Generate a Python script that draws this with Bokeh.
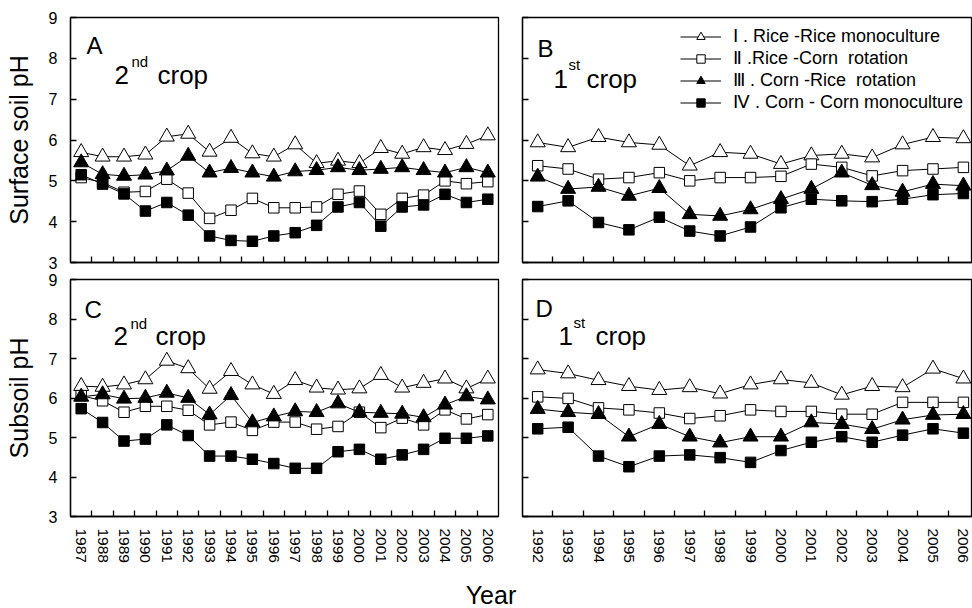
from bokeh.plotting import figure
from bokeh.models import (Range1d, FixedTicker, Label, Legend, LegendItem, Div)
from bokeh.layouts import column, row
from bokeh.embed import file_html
from bokeh.resources import INLINE

# ---------------- data ----------------
years_2nd = list(range(1987, 2007))
years_1st = list(range(1992, 2007))

# Panel A: surface soil, 2nd crop
A_I   = [5.70, 5.59, 5.59, 5.64, 6.08, 6.15, 5.71, 6.05, 5.67, 5.59, 5.89, 5.43, 5.49, 5.43, 5.80, 5.66, 5.82, 5.75, 5.90, 6.11]
A_II  = [5.08, 4.96, 4.72, 4.74, 5.04, 4.70, 4.08, 4.28, 4.57, 4.34, 4.34, 4.36, 4.67, 4.75, 4.18, 4.57, 4.65, 5.00, 4.93, 4.98]
A_III = [5.45, 5.16, 5.12, 5.15, 5.25, 5.61, 5.20, 5.31, 5.20, 5.10, 5.23, 5.26, 5.33, 5.26, 5.29, 5.33, 5.26, 5.20, 5.33, 5.20]
A_IV  = [5.15, 4.92, 4.68, 4.26, 4.47, 4.16, 3.65, 3.54, 3.52, 3.65, 3.73, 3.91, 4.36, 4.47, 3.89, 4.36, 4.41, 4.67, 4.47, 4.55]

# Panel B: surface soil, 1st crop
B_I   = [5.94, 5.82, 6.07, 5.94, 5.88, 5.37, 5.70, 5.66, 5.41, 5.62, 5.66, 5.57, 5.89, 6.07, 6.04]
B_II  = [5.37, 5.29, 5.04, 5.08, 5.20, 5.00, 5.08, 5.08, 5.11, 5.41, 5.33, 5.12, 5.25, 5.29, 5.33]
B_III = [5.10, 4.80, 4.85, 4.63, 4.82, 4.18, 4.14, 4.30, 4.55, 4.80, 5.20, 4.89, 4.73, 4.92, 4.88]
B_IV  = [4.37, 4.51, 3.98, 3.80, 4.11, 3.77, 3.65, 3.87, 4.34, 4.55, 4.51, 4.49, 4.55, 4.66, 4.69]

# Panel C: subsoil, 2nd crop
C_I   = [6.30, 6.28, 6.34, 6.47, 6.94, 6.75, 6.23, 6.68, 6.34, 6.10, 6.45, 6.26, 6.21, 6.24, 6.58, 6.26, 6.38, 6.49, 6.24, 6.49]
C_II  = [6.06, 5.93, 5.64, 5.79, 5.79, 5.69, 5.32, 5.39, 5.18, 5.39, 5.39, 5.21, 5.28, 5.64, 5.25, 5.49, 5.32, 5.70, 5.47, 5.58]
C_III = [6.03, 6.09, 5.98, 6.00, 6.13, 6.00, 5.58, 6.07, 5.38, 5.53, 5.66, 5.64, 5.86, 5.64, 5.62, 5.60, 5.51, 5.83, 6.04, 5.96]
C_IV  = [5.73, 5.38, 4.91, 4.96, 5.32, 5.05, 4.53, 4.53, 4.45, 4.34, 4.22, 4.22, 4.64, 4.70, 4.45, 4.56, 4.70, 4.98, 4.98, 5.04]

# Panel D: subsoil, 1st crop
D_I   = [6.72, 6.62, 6.45, 6.30, 6.20, 6.27, 6.11, 6.34, 6.47, 6.38, 6.08, 6.30, 6.27, 6.74, 6.49]
D_II  = [6.03, 5.99, 5.75, 5.70, 5.62, 5.48, 5.55, 5.70, 5.66, 5.66, 5.59, 5.59, 5.89, 5.89, 5.89]
D_III = [5.72, 5.64, 5.59, 5.02, 5.34, 5.02, 4.87, 5.02, 5.02, 5.38, 5.34, 5.21, 5.45, 5.57, 5.59]
D_IV  = [5.22, 5.26, 4.53, 4.26, 4.53, 4.56, 4.49, 4.37, 4.67, 4.88, 5.02, 4.88, 5.06, 5.22, 5.11]

series_labels = ["\u2160 . Rice -Rice monoculture",
                 "\u2161 .Rice -Corn  rotation",
                 "\u2162 . Corn -Rice  rotation",
                 "\u2163 . Corn - Corn monoculture"]
y_ticks = [3, 4, 5, 6, 7, 8, 9]

# ---------------- styling ----------------
FONT = "Liberation Sans"
NARROW = "'Liberation Sans Narrow', 'Liberation Sans', sans-serif"
styles = [dict(marker="triangle", size=15, fill_color="white"),
          dict(marker="square", size=10.5, fill_color="white"),
          dict(marker="triangle", size=15, fill_color="black"),
          dict(marker="square", size=10.5, fill_color="black")]

FRAME_H_TOP, FRAME_H_BOT = 245, 237
FRAME_W_L, FRAME_W_R = 428, 450


def make_panel(years, series, xr, frame_w, frame_h, left_labels, bottom_labels,
               borders, ylabel=None):
    p = figure(width=frame_w + borders[0] + borders[1],
               height=frame_h + borders[2] + borders[3],
               x_range=Range1d(*xr), y_range=Range1d(3, 9),
               output_backend="svg", toolbar_location=None,
               min_border_left=borders[0], min_border_right=borders[1],
               min_border_top=borders[2], min_border_bottom=borders[3])
    p.frame_width = frame_w
    p.frame_height = frame_h
    p.xgrid.visible = False
    p.ygrid.visible = False
    p.outline_line_color = "black"
    p.outline_line_width = 1.3
    p.background_fill_color = "white"
    p.border_fill_color = "white"

    rends = []
    for vals, st in zip(series, styles):
        l = p.line(years, vals, line_color="black", line_width=1)
        s = p.scatter(years, vals, marker=st["marker"], size=st["size"],
                      fill_color=st["fill_color"], line_color="black", line_width=1)
        rends.append((l, s))

    # x axis: year labels at the points, tick marks between the years
    xa = p.xaxis[0]
    halves = [y + 0.5 for y in years[:-1]]
    xa.ticker = FixedTicker(ticks=years if bottom_labels else [], minor_ticks=halves)
    xa.major_tick_in = 0
    xa.major_tick_out = 0
    xa.minor_tick_in = 6
    xa.minor_tick_out = 0
    xa.minor_tick_line_color = "black"
    xa.minor_tick_line_width = 1.3
    xa.axis_line_color = "black"
    xa.axis_line_width = 1.3
    if bottom_labels:
        xa.major_label_orientation = "vertical"
        xa.major_label_text_font = FONT
        xa.major_label_text_font_size = "15.5px"
        xa.major_label_text_color = "black"
        xa.major_label_standoff = 12
    else:
        xa.major_label_standoff = 0

    # y axis
    ya = p.yaxis[0]
    ya.axis_line_color = "black"
    ya.axis_line_width = 1.3
    if left_labels:
        ya.ticker = FixedTicker(ticks=y_ticks)
        ya.minor_tick_line_color = None
        ya.major_tick_in = 6
        ya.major_tick_out = 0
        ya.major_tick_line_color = "black"
        ya.major_tick_line_width = 1.3
        ya.major_label_text_font = NARROW
        ya.major_label_text_font_size = "16px"
        ya.major_label_text_color = "black"
        ya.major_label_standoff = 13
        ya.axis_label = ylabel
        ya.axis_label_text_font = FONT
        ya.axis_label_text_font_style = "normal"
        ya.axis_label_text_font_size = "25px"
        ya.axis_label_text_color = "black"
        ya.axis_label_standoff = 13
    else:
        ya.ticker = FixedTicker(ticks=[], minor_ticks=y_ticks)
        ya.minor_tick_in = 6
        ya.minor_tick_out = 0
        ya.minor_tick_line_color = "black"
        ya.minor_tick_line_width = 1.3
        ya.major_label_standoff = 0
    return p, rends


def add_texts(p, geom, items):
    left, top, w, h, x0, x1 = geom
    for txt, X, Y, fs in items:
        xd = x0 + (X - left) / w * (x1 - x0)
        yd = 9 - (Y - top) / h * 6
        p.add_layout(Label(x=xd, y=yd, text=txt, text_font=FONT,
                           text_font_size=f"{fs}px", text_color="black",
                           text_align="left", text_baseline="alphabetic"))


xr_2nd = (1986.5, 2006.5)
xr_1st = (1991.5, 2006.3)

pA, _ = make_panel(years_2nd, [A_I, A_II, A_III, A_IV], xr_2nd, FRAME_W_L, FRAME_H_TOP,
                   True, False, (70, 12, 17, 8), "Surface soil pH")
pB, rB = make_panel(years_1st, [B_I, B_II, B_III, B_IV], xr_1st, FRAME_W_R, FRAME_H_TOP,
                    False, False, (12, 0, 17, 8))
pC, _ = make_panel(years_2nd, [C_I, C_II, C_III, C_IV], xr_2nd, FRAME_W_L, FRAME_H_BOT,
                   True, True, (70, 12, 9, 56), "Subsoil pH")
pD, _ = make_panel(years_1st, [D_I, D_II, D_III, D_IV], xr_1st, FRAME_W_R, FRAME_H_BOT,
                   False, True, (12, 0, 9, 56))

gA = (70, 17, FRAME_W_L, FRAME_H_TOP) + xr_2nd
gB = (522, 17, FRAME_W_R, FRAME_H_TOP) + xr_1st
gC = (70, 279, FRAME_W_L, FRAME_H_BOT) + xr_2nd
gD = (522, 279, FRAME_W_R, FRAME_H_BOT) + xr_1st

add_texts(pA, gA, [("A", 86, 45, 24), ("2", 114, 74, 26), ("nd", 131, 61, 15), ("crop", 157, 74, 26)])
add_texts(pB, gB, [("B", 537, 48, 24), ("1", 553, 78, 26), ("st", 568, 64, 15), ("crop", 586, 78, 26)])
add_texts(pC, gC, [("C", 84, 309, 24), ("2", 113, 335, 26), ("nd", 130, 323, 15), ("crop", 155, 335, 26)])
add_texts(pD, gD, [("D", 535, 308, 24), ("1", 558, 335, 26), ("st", 573, 322, 15), ("crop", 595, 335, 26)])

legend = Legend(items=[LegendItem(label=lab, renderers=[l, s]) for lab, (l, s) in zip(series_labels, rB)],
                location=(158, 149), padding=0, margin=0, spacing=0,
                glyph_width=41, glyph_height=21, label_height=21, label_standoff=12,
                label_text_font=FONT, label_text_font_size="18px", label_text_color="black",
                border_line_color=None, background_fill_alpha=0)
pB.add_layout(legend)

year_div = Div(text="Year", width=972, height=36,
               styles={"font-family": FONT, "font-size": "25px", "text-align": "center",
                       "line-height": "36px", "color": "black"})

layout = column(row(pA, pB), row(pC, pD), year_div)

with open("out.html", "w") as f:
    f.write(file_html(layout, INLINE))
